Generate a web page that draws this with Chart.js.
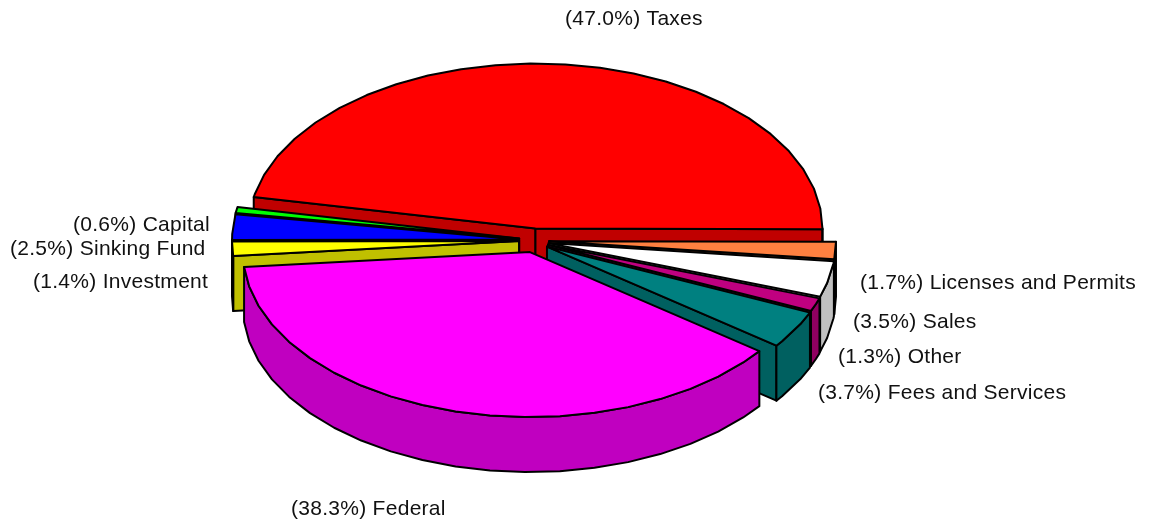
<!DOCTYPE html>
<html>
<head>
    <title>Revenue by source</title>
    <script src="https://cdn.jsdelivr.net/npm/chart.js"></script>
    <style>
        html, body { margin: 0; padding: 0; background: #ffffff; }
        canvas { display: block; }
    </style>
</head>
<body>
<canvas id="chart" width="1150" height="524"></canvas>

<script>
    // Values, clockwise starting at Taxes
    const categories = ['Taxes', 'Licenses and Permits', 'Sales', 'Other', 'Fees and Services', 'Federal', 'Investment', 'Sinking Fund', 'Capital'];
    const shares = [47.0, 1.7, 3.5, 1.3, 3.7, 38.3, 1.4, 2.5, 0.6];

    const topColors = ['#ff0000', '#ff8040', '#ffffff', '#c00080', '#008080', '#ff00ff', '#ffff00', '#0000ff', '#00ff00'];
    const wallColors = ['#c00000', '#c06030', '#c0c0c0', '#900060', '#006060', '#c000c0', '#c0c000', '#0000c0', '#00c000'];

    // Back to front, so nearer slices cover the ones behind
    const paintOrder = [0, 8, 7, 6, 1, 2, 3, 4, 5];

    // Where each label starts (same order as categories)
    const labelSpots = [[565, 19], [860, 283], [853, 322], [838, 357], [818, 393], [291, 509], [33, 282], [10, 249], [73, 225]];

    const TILT = 0.575;      // ellipse height / width
    const EXPLODE_Y = 0.8;   // slices move less vertically when pulled out
    const DEPTH = 55;        // thickness of the pie
    const FACET = 7 * Math.PI / 180; // reference outline is a polygon

    function outline(cx, cy, r, from, to) {
        const pts = [];
        pts.push([cx + r * Math.cos(from), cy + r * TILT * Math.sin(from)]);
        for (let k = Math.ceil(from / FACET + 0.01); k * FACET < to; k++) {
            const a = k * FACET;
            pts.push([cx + r * Math.cos(a), cy + r * TILT * Math.sin(a)]);
        }
        pts.push([cx + r * Math.cos(to), cy + r * TILT * Math.sin(to)]);
        return pts;
    }

    function shape(ctx, pts, fill) {
        ctx.beginPath();
        pts.forEach((p, i) => i ? ctx.lineTo(p[0], p[1]) : ctx.moveTo(p[0], p[1]));
        ctx.closePath();
        ctx.fillStyle = fill;
        ctx.fill();
        ctx.stroke();
    }

    const pie3d = {
        id: 'pie3d',
        beforeDatasetsDraw(chart) {
            const ctx = chart.ctx;
            const arcs = chart.getDatasetMeta(0).data;
            ctx.save();
            ctx.lineWidth = 2;
            ctx.lineJoin = 'round';
            ctx.strokeStyle = '#000000';

            paintOrder.forEach(i => {
                const arc = arcs[i];
                const from = arc.startAngle, to = arc.endAngle;
                const mid = (from + to) / 2;
                const shift = chart.data.datasets[0].explode;
                const cx = arc.x + Math.cos(mid) * shift;
                const cy = arc.y + Math.sin(mid) * shift * EXPLODE_Y;
                const r = arc.outerRadius;
                const rim = outline(cx, cy, r, from, to);
                const first = rim[0], last = rim[rim.length - 1];

                // cut faces, only those turned towards the viewer
                if (Math.cos(from) < 0) {
                    shape(ctx, [[cx, cy], first, [first[0], first[1] + DEPTH], [cx, cy + DEPTH]], wallColors[i]);
                }
                if (Math.cos(to) > 0) {
                    shape(ctx, [[cx, cy], last, [last[0], last[1] + DEPTH], [cx, cy + DEPTH]], wallColors[i]);
                }

                // outer wall, only the part facing the viewer
                const lo = Math.max(from, 0), hi = Math.min(to, Math.PI);
                if (hi > lo) {
                    const band = outline(cx, cy, r, lo, hi);
                    const lower = band.map(p => [p[0], p[1] + DEPTH]).reverse();
                    shape(ctx, band.concat(lower), wallColors[i]);
                }

                // top
                shape(ctx, [[cx, cy]].concat(rim), topColors[i]);
            });

            ctx.fillStyle = '#111111';
            ctx.font = '21px "Liberation Sans", Arial, sans-serif';
            ctx.letterSpacing = '0.28px';
            ctx.textBaseline = 'middle';
            ctx.textAlign = 'left';
            categories.forEach((name, i) => {
                ctx.fillText('(' + shares[i].toFixed(1) + '%) ' + name, labelSpots[i][0], labelSpots[i][1]);
            });
            ctx.restore();
            return false;
        }
    };

    new Chart(document.getElementById('chart'), {
        type: 'pie',
        data: {
            labels: categories,
            datasets: [{
                data: shares,
                backgroundColor: topColors,
                explode: 15,
                borderWidth: 0
            }]
        },
        options: {
            responsive: false,
            animation: false,
            rotation: -79,
            radius: 287,
            layout: { padding: { right: 82, bottom: 43 } },
            plugins: { legend: { display: false }, tooltip: { enabled: false } }
        },
        plugins: [pie3d]
    });
</script>
</body>
</html>
